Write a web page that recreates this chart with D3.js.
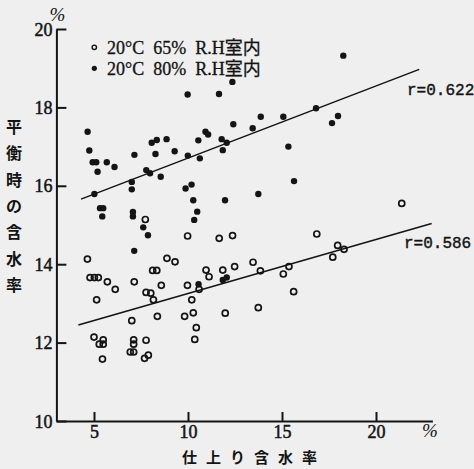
<!DOCTYPE html>
<html>
<head>
<meta charset="utf-8">
<title>平衡時の含水率</title>
<script src="https://cdn.jsdelivr.net/npm/d3@7"></script>
<style>
  body { margin: 0; background: #efefef; }
</style>
</head>
<body>
<script>
    // 20°C 80% R.H 室内 (filled dots): [仕上り含水率, 平衡時の含水率]
    const rh80 = [
        [9.98, 18.33], [11.65, 18.34], [4.66, 17.38], [4.75, 16.90], [4.93, 16.60],
        [5.12, 16.60], [5.68, 16.60], [5.19, 16.36], [6.09, 16.48], [7.15, 16.79],
        [8.07, 17.10], [8.34, 17.17], [8.86, 17.19], [8.27, 16.81], [9.29, 16.88],
        [9.99, 16.77], [10.55, 17.16], [10.93, 17.38], [11.07, 17.31], [10.63, 16.70],
        [7.78, 16.40], [7.98, 16.32], [8.55, 16.23], [7.01, 16.10], [7.01, 15.91],
        [5.02, 15.79], [9.87, 15.93], [10.19, 16.03], [10.28, 15.63], [5.32, 15.43],
        [5.49, 15.43], [5.44, 15.22], [7.07, 15.33], [7.07, 15.22], [10.49, 15.34],
        [10.33, 15.13], [7.62, 14.94], [7.87, 14.74], [7.14, 14.34], [18.26, 19.32],
        [12.36, 18.65], [13.87, 17.76], [15.07, 17.76], [16.81, 17.98], [17.98, 17.78],
        [17.66, 17.60], [12.41, 17.57], [13.44, 17.47], [11.79, 17.19], [12.06, 17.10],
        [11.85, 16.91], [15.34, 17.00], [15.64, 16.12], [13.74, 15.79], [11.97, 15.63],
        [11.85, 13.60], [12.06, 13.66], [10.56, 13.49]
    ];

    // 20°C 65% R.H 室内 (open circles)
    const rh65 = [
        [7.73, 15.14], [9.98, 14.72], [11.66, 14.66], [12.37, 14.73], [16.85, 14.77],
        [17.96, 14.48], [18.30, 14.38], [17.70, 14.18], [21.37, 15.55], [4.65, 14.13],
        [8.88, 14.15], [9.31, 14.06], [8.12, 13.84], [8.34, 13.84], [10.96, 13.85],
        [11.12, 13.68], [11.85, 13.85], [4.79, 13.66], [5.02, 13.66], [5.23, 13.66],
        [5.71, 13.55], [7.14, 13.55], [6.13, 13.36], [9.97, 13.46], [10.59, 13.36],
        [12.48, 13.94], [13.46, 14.05], [13.85, 13.83], [15.07, 13.75], [15.37, 13.94],
        [15.62, 13.30], [11.98, 12.75], [13.74, 12.89], [5.14, 13.09], [7.77, 13.28],
        [8.02, 13.26], [8.16, 13.09], [10.20, 13.09], [7.01, 12.56], [8.37, 12.67],
        [8.58, 13.46], [9.82, 12.67], [10.28, 12.76], [10.44, 12.38], [10.36, 12.08],
        [5.00, 12.14], [5.28, 11.96], [5.49, 11.96], [5.49, 12.07], [7.11, 12.07],
        [7.11, 11.96], [7.77, 12.06], [6.93, 11.76], [7.11, 11.76], [7.89, 11.68],
        [7.69, 11.60], [5.45, 11.58]
    ];

    // regression lines (end points)
    const fit80 = [[4.31, 15.66], [22.30, 18.97]];
    const fit65 = [[4.17, 12.45], [22.96, 15.04]];
    const rLabels = [
        { text: "r=0.622", x: 21.65, y: 18.32 },
        { text: "r=0.586", x: 21.49, y: 14.41 }
    ];

    const xTicks = [5, 10, 15, 20];
    const yTicks = [10, 12, 14, 16, 18, 20];
    const legendLabels = ["20°C 65% R.H室内", "20°C 80% R.H室内"];

    const w = 474;
    const h = 469;
    const ink = "#141414";
    const serif = "'Liberation Serif', 'Noto Sans CJK JP', serif";
    const jp = "'Noto Sans CJK JP', sans-serif";

    const xScale = d3.scaleLinear().domain([3, 23]).range([56.4, 432.4]);
    const yScale = d3.scaleLinear().domain([10, 20]).range([421, 29]);

    const svg = d3.select("body")
        .append("svg")
        .attr("width", w)
        .attr("height", h)
        .style("background", "#efefef");

    // axes
    const xAxis = d3.axisBottom(xScale)
        .tickValues(xTicks)
        .tickSize(-9)
        .tickSizeOuter(0)
        .tickPadding(4);
    const yAxis = d3.axisLeft(yScale)
        .tickValues(yTicks)
        .tickSize(-10)
        .tickSizeOuter(0)
        .tickPadding(4);

    const gx = svg.append("g")
        .attr("transform", "translate(0," + yScale(10) + ")")
        .call(xAxis);
    const gy = svg.append("g")
        .attr("transform", "translate(" + xScale(3) + ",0)")
        .call(yAxis);

    [gx, gy].forEach(g => {
        g.attr("font-family", serif).attr("font-size", 18);
        g.selectAll("path, line").attr("stroke", ink).attr("stroke-width", 2);
        g.selectAll("text")
            .attr("fill", ink)
            .attr("stroke", ink)
            .attr("stroke-width", 0.5);
    });
    gy.selectAll("text").attr("dy", "0.34em");

    // unit marks
    svg.append("text")
        .attr("x", xScale(3) + 1)
        .attr("y", 21)
        .attr("text-anchor", "middle")
        .attr("font-family", serif)
        .attr("font-size", 19)
        .attr("font-style", "italic")
        .attr("fill", ink)
        .text("%");
    svg.append("text")
        .attr("x", 430)
        .attr("y", 437)
        .attr("text-anchor", "middle")
        .attr("font-family", serif)
        .attr("font-size", 19)
        .attr("font-style", "italic")
        .attr("fill", ink)
        .text("%");

    // axis titles
    svg.append("text")
        .attr("x", 182)
        .attr("y", 463)
        .attr("font-family", jp)
        .attr("font-size", 15)
        .attr("font-weight", 700)
        .attr("letter-spacing", 9)
        .attr("fill", ink)
        .text("仕上り含水率");

    const yTitle = svg.append("text")
        .attr("font-family", jp)
        .attr("font-size", 16)
        .attr("font-weight", 700)
        .attr("fill", ink)
        .attr("text-anchor", "middle");
    yTitle.selectAll("tspan")
        .data("平衡時の含水率".split(""))
        .enter()
        .append("tspan")
        .attr("x", 14)
        .attr("y", (d, i) => 133 + i * 26.3)
        .text(d => d);

    // regression lines
    const line = d3.line()
        .x(d => xScale(d[0]))
        .y(d => yScale(d[1]));

    [fit80, fit65].forEach(f => {
        svg.append("path")
            .attr("d", line(f))
            .attr("fill", "none")
            .attr("stroke", ink)
            .attr("stroke-width", 1.6);
    });

    svg.selectAll(".rlabel")
        .data(rLabels)
        .enter()
        .append("text")
        .attr("class", "rlabel")
        .attr("x", d => xScale(d.x))
        .attr("y", d => yScale(d.y))
        .attr("font-family", "'Liberation Mono', monospace")
        .attr("font-size", 16)
        .attr("fill", ink)
        .attr("stroke", ink)
        .attr("stroke-width", 0.4)
        .text(d => d.text);

    // points
    svg.selectAll(".p65")
        .data(rh65)
        .enter()
        .append("circle")
        .attr("class", "p65")
        .attr("cx", d => xScale(d[0]))
        .attr("cy", d => yScale(d[1]))
        .attr("r", 3)
        .attr("fill", "none")
        .attr("stroke", ink)
        .attr("stroke-width", 1.7);

    svg.selectAll(".p80")
        .data(rh80)
        .enter()
        .append("circle")
        .attr("class", "p80")
        .attr("cx", d => xScale(d[0]))
        .attr("cy", d => yScale(d[1]))
        .attr("r", 3.2)
        .attr("fill", ink);

    // legend
    const legend = svg.append("g");
    legendLabels.forEach((t, i) => {
        legend.append("circle")
            .attr("cx", 94.3)
            .attr("cy", 47.3 + i * 21)
            .attr("r", i === 0 ? 2.2 : 2.6)
            .attr("fill", i === 0 ? "none" : ink)
            .attr("stroke", ink)
            .attr("stroke-width", i === 0 ? 1.4 : 0);
        legend.append("text")
            .attr("x", 107)
            .attr("y", 54 + i * 20.5)
            .attr("font-family", serif)
            .attr("font-size", 18)
            .attr("word-spacing", 4.5)
            .attr("fill", ink)
            .attr("stroke", ink)
            .attr("stroke-width", 0.3)
            .text(t);
    });
</script>
</body>
</html>
